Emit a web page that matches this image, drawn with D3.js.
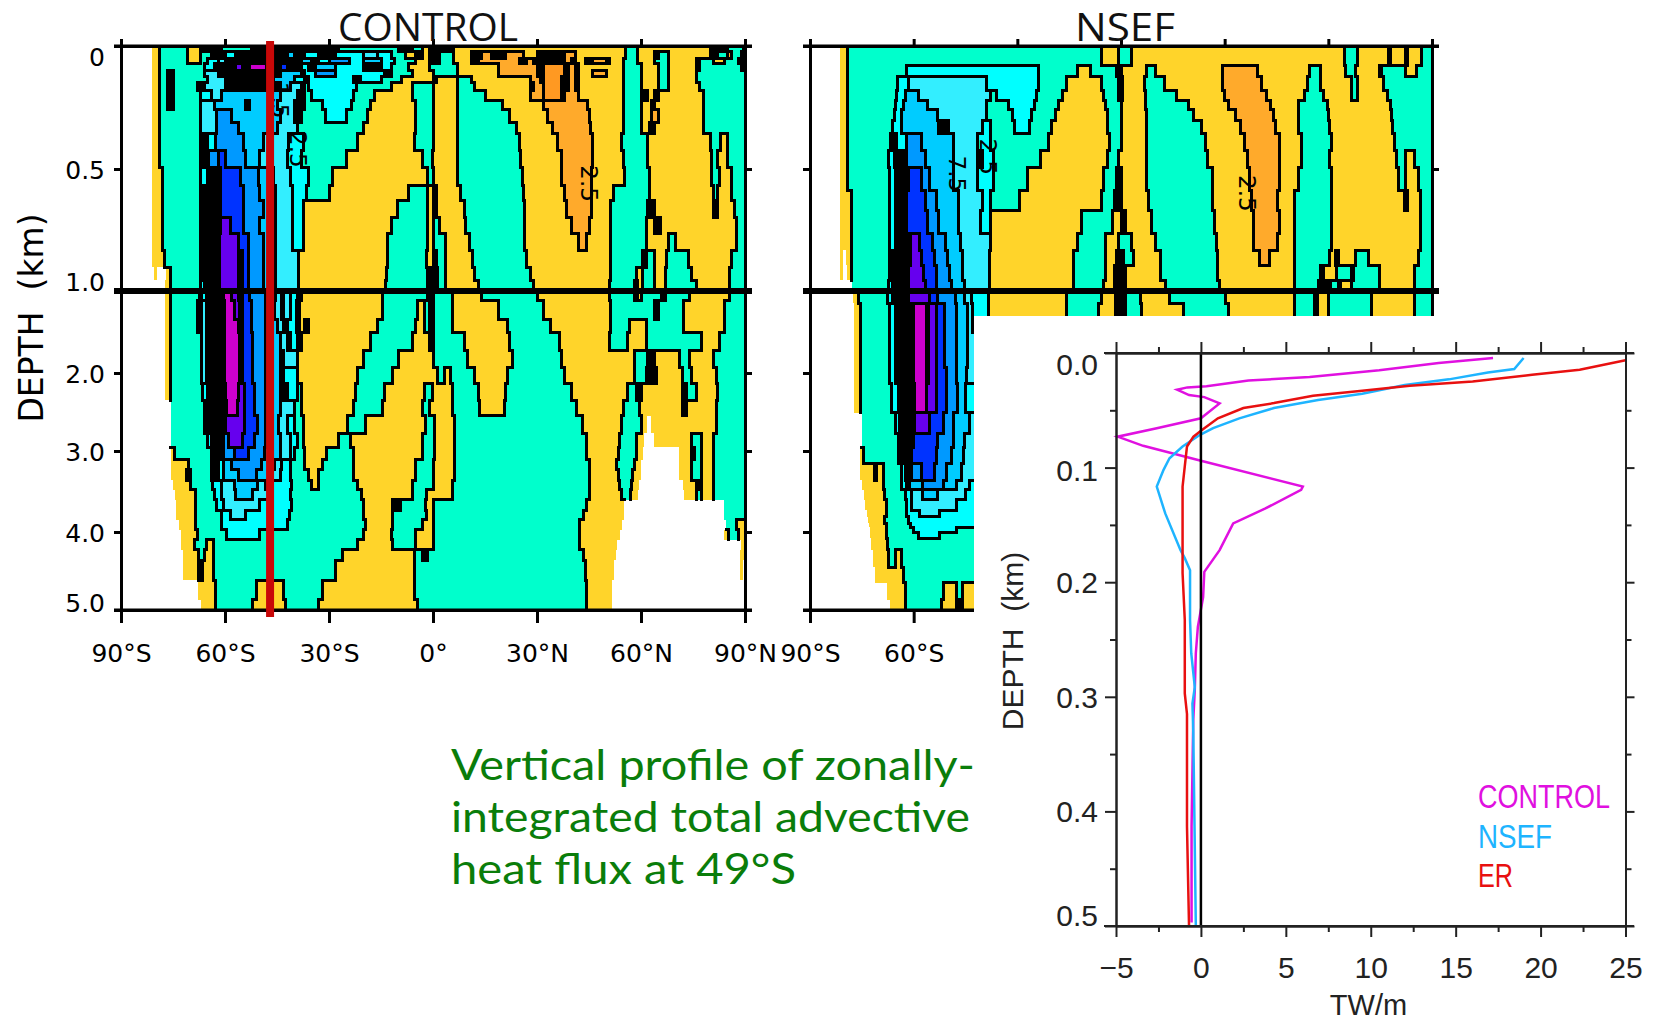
<!DOCTYPE html>
<html>
<head>
<meta charset="utf-8">
<script src="https://cdn.jsdelivr.net/npm/d3@7"></script>
<style>
  html, body { margin: 0; padding: 0; background: #fff; }
  svg { display: block; }
  text { white-space: pre; }
</style>
</head>
<body>
<div id="chart"></div>
<script>
// contour classes, lowest to highest (W is the land, K the packed contour lines)
const W = 0, K = 1, M = 2, V = 3, B = 4, C = 5, D = 6, E = 7, F = 8, G = 9, Y = 10, O = 11, P = 12;
const levelColors = ["#ffffff", "#000000", "#cc00cc", "#6600ee", "#0033ff", "#0099ff", "#00ccff", "#33eeff", "#00ffff", "#00ffcc", "#ffd42a", "#ffaa2b", "#ff9922"];

const latTicks = [-90, -60, -30, 0, 30, 60, 90];
const depthTicks = [0, 0.5, 1, 2, 3, 4, 5];
const depthLabels = ["0", "0.5", "1.0", "2.0", "3.0", "4.0", "5.0"];
const depthPixels = [46, 169, 291, 373, 451, 532, 610];
const depthLabelShift = [10, 0, -10, 0, 0, 0, -8];

// each row: top depth of the row, then start latitude + class pairs
const controlDepths = [0, .024, .049, .073, .098, .122, .147, .18, .22, .26, .31, .355, .425, .494, .567, .629, .698, .763, .833, .902, .955, 1, 1.11, 1.35, 1.51, 1.72, 1.93, 2.13, 2.35, 2.55, 2.77, 2.95, 3.11, 3.23, 3.36, 3.48, 3.6, 3.73, 3.85, 3.97, 4.1, 4.23, 4.36, 4.62, 4.87];
const controlRows = [
  [-81,Y,-79,G,-70.7,Y,-67,K,-61,G,-52.4,K,-27.4,G,-10,K,-6,G,-3,Y,-1,K,6,Y,55.5,G,59,Y,80,K,85,G,89.5,K],
  [-81,Y,-79,G,-70.7,Y,-67,G,-64,K,-60,F,-57,K,-42,D,-40,K,-37,F,-33,K,-28,F,-20,E,-16,F,-12,G,-8,Y,-5,K,-3,Y,-1,K,2,G,6,Y,11,K,14,O,17,K,21,O,26,Y,30,K,38,O,41,Y,55.5,G,59,Y,64,K,65,G,68,Y,80,K,82,G,85,O,86,G,89,K],
  [-81,Y,-79,G,-70.7,Y,-67,G,-65,F,-62,E,-60,K,-38,D,-35,K,-33,F,-30,C,-24,F,-20,D,-15,F,-11,G,-5,Y,-1,K,2,G,6,Y,11,K,13,O,25,K,27,O,29,K,38,O,40,K,41,Y,44,K,46,O,50,K,51,Y,55,G,59,Y,64,G,68,Y,76,K,77,G,81,Y,84,G,88,K],
  [-81,Y,-79,G,-66,F,-63,K,-57,V,-55,K,-53,M,-48,K,-44,B,-42,K,-38,F,-36,K,-34,D,-28,F,-20,K,-15,F,-12,G,-7,Y,-1,G,7,Y,19,O,30,K,31,O,32,P,38,K,39,O,41,K,42,Y,55,G,60,Y,65,G,68,Y,76,K,77,G,89,K],
  [-81,Y,-79,G,-76.5,K,-75,G,-66,E,-62,K,-44,D,-38,K,-37,F,-34,C,-28,F,-14,K,-12,G,-6,Y,0,G,7,Y,19,O,30,K,32,P,38,K,39,O,41,K,42,Y,46,O,50,Y,55,G,60,Y,65,G,68,Y,76,G],
  [-81,Y,-79,G,-76.5,K,-75,G,-65,E,-60,K,-46,D,-40,F,-37,K,-36,F,-23,K,-21,F,-15,G,-9,Y,0,K,1,Y,7,G,11,Y,28,O,31,K,32,P,37,K,39,O,41,K,42,Y,55,G,60,Y,65,G,68,Y,76,G],
  [-81,Y,-79,G,-76.5,K,-75,G,-68,K,-66,E,-60,K,-44,D,-41,E,-38,F,-37,G,-36,F,-22,G,-12,Y,-6,G,0,Y,7,G,12,Y,28,K,29,O,32,P,37,K,39,O,41,K,42,Y,55,G,60,Y,65,G,68,Y,77,G],
  [-81,Y,-79,G,-76.5,K,-75,G,-67,F,-64,E,-61,D,-44,E,-39,K,-37,G,-35,F,-23,G,-17,Y,-6,G,0,Y,7,G,15,Y,28,O,32,P,37,K,38,O,42,Y,55,G,60,Y,61,K,62,Y,64,K,65,Y,78,G],
  [-81,Y,-79,G,-76.5,K,-75,G,-67,E,-63,D,-54,K,-53,D,-45,E,-40,K,-37,G,-32,F,-23.5,G,-18,Y,-5,G,0,Y,7,G,20,Y,32,O,44.5,Y,55,G,60,Y,63,K,64,Y,78,G],
  [-81,Y,-79,G,-67,E,-62.5,C,-58,D,-44,E,-40,K,-38,G,-31,F,-25,G,-19,Y,-5,G,0,Y,7,G,22,Y,33,O,45,Y,55,G,60,Y,63,O,65,Y,78,G],
  [-81,Y,-79,G,-67,E,-62.5,C,-56,D,-45,E,-39,G,-20,Y,-5,G,0,Y,7,G,24,Y,34.5,O,45.5,Y,55,G,60,Y,62.4,K,64,Y,78,G],
  [-81,Y,-79,G,-67,K,-65,F,-62.6,C,-54.7,D,-49,E,-41.8,F,-37.5,G,-21.7,Y,-5.2,G,0,Y,7,G,25,Y,36,O,46,Y,54.5,G,62,Y,80,G,83,Y,85,G],
  [-81,Y,-79,G,-67,K,-64.8,C,-62,B,-60,C,-54,D,-50,E,-42,F,-38,G,-25,Y,-3,G,-0.1,Y,7,G,25.3,Y,37,O,46,Y,55,G,62,Y,80.3,G,82,Y,85,G],
  [-81,Y,-78,G,-67,F,-65,K,-61.2,B,-55.5,C,-50.4,D,-46,E,-41,F,-36,G,-29,Y,-1.6,G,0,Y,7,G,25.7,Y,37.2,O,45.8,Y,55.2,G,62.4,Y,80.3,G,82.5,Y,86,G],
  [-81,Y,-78,G,-67,K,-61.2,B,-54.7,C,-50,D,-45.5,E,-40.4,F,-36.5,G,-30,Y,-7,G,-1.6,Y,0,K,1,Y,8,G,26,Y,38,O,45.8,Y,52,G,62.4,Y,81,G,82,Y,86,G],
  [-81,Y,-78,G,-67,K,-61.2,B,-54.7,C,-49,D,-45.4,E,-40.4,F,-37.5,Y,-10.2,G,-1.6,Y,0,K,1,Y,9.2,G,26.4,Y,38.6,O,45.8,Y,51.3,G,62,K,63,G,64,Y,81,K,82,Y,87,G],
  [-81,Y,-78,G,-67,K,-61.2,V,-58.3,B,-54.7,C,-50,D,-45.4,E,-40.4,F,-37.5,Y,-12,G,-1.6,Y,0,G,2,Y,9.5,G,26.4,Y,40,O,45,Y,51.3,G,61.6,Y,64,K,65.5,Y,87.5,G],
  [-81,Y,-78,G,-67,K,-61.5,V,-56.2,B,-53.3,C,-49,D,-45.4,E,-40.4,F,-37.5,Y,-13,G,-1.6,Y,0,G,3.5,Y,10.5,G,26.5,Y,42,O,44.4,Y,51.3,G,61.6,Y,68,G,70,Y,87.5,G],
  [-81,Y,-77.5,G,-67,K,-61.5,V,-56.2,K,-55,B,-53.3,C,-49,D,-45.4,E,-38.9,Y,-13.2,G,-2,Y,0,K,1,G,3.5,Y,11.5,G,27,Y,51.3,G,60.5,K,61.5,G,64,Y,67.4,G,73.8,Y,86,G],
  [-80.5,Y,-79.5,W,-77,Y,-75.6,G,-67,K,-61.5,V,-56.2,K,-55,B,-53.3,C,-49,D,-45.4,E,-38.9,Y,-13.5,G,-1.6,K,1.3,G,3.5,Y,12,G,28,Y,51.3,G,58.8,Y,60.5,G,64,Y,67,G,74.6,Y,85.5,G],
  [-77.3,Y,-75.6,G,-67,F,-66,K,-61.5,V,-56.2,K,-55,B,-53.3,C,-49,D,-45.4,E,-38.9,Y,-13.8,G,-1.6,K,1.3,G,3.5,Y,13,G,29,Y,51,G,58,K,59,Y,60.5,G,64,Y,67,G,76,Y,85.5,G],
  [-77.3,Y,-75.6,G,-67.5,K,-66.8,F,-65.4,K,-60.5,M,-58,V,-56,K,-55,B,-53,C,-48.2,D,-45.4,E,-43.7,K,-43,E,-41,F,-39,K,-38,Y,-14.5,G,-1.6,K,0,G,5.6,Y,14,G,30,Y,51,G,58,K,59,Y,60,G,66,K,67,G,74,Y,85.5,G],
  [-77.3,Y,-75.6,G,-67.8,K,-66.8,E,-65.4,K,-60.1,M,-57.2,V,-55.8,K,-55,B,-52.4,C,-48.2,D,-45.6,E,-43.7,K,-43,E,-41,F,-39.5,K,-38.4,Y,-14.5,G,-4.5,Y,-2.5,G,-1,K,0,G,5.6,Y,19,G,32,Y,51.3,G,64,K,65,G,72.4,Y,84,G],
  [-77.3,Y,-75.6,G,-67.8,K,-66.8,E,-65.4,K,-60.1,M,-56,K,-55,B,-52.4,C,-48.2,D,-45,E,-43,K,-42,F,-39.5,K,-38.4,Y,-37,K,-36,Y,-16,G,-5,Y,-2.5,G,-1,K,0,G,5.6,Y,21.4,G,34,Y,51.3,G,56.6,Y,61.6,G,72.4,Y,84,G],
  [-77.3,Y,-75.6,G,-66.8,E,-65.4,K,-60.1,M,-55.8,K,-55,B,-52,C,-48.2,D,-44,E,-42,K,-41,F,-39,K,-38,Y,-18,G,-6,Y,-1,K,0,G,9,Y,22,G,36.5,Y,51,G,56,Y,61.6,G,77.4,Y,82.5,G],
  [-77.3,Y,-75.6,G,-66.8,E,-65.4,K,-60.1,M,-55.8,K,-55,B,-52,C,-48.2,D,-44,K,-43,E,-39,Y,-20,G,-10,Y,0,G,10,Y,22.8,G,37,Y,58,G,62,K,64,Y,71,G,74,Y,81,G],
  [-77.3,Y,-75.6,G,-66.8,E,-65.4,K,-60.1,M,-55.8,K,-55,B,-52,C,-48.2,D,-44,K,-43,F,-39,Y,-21.7,G,-11.6,Y,1.3,G,3.4,Y,5,G,12.1,Y,21.4,G,38,Y,58,G,61.6,K,64.5,Y,72,G,74.6,Y,81.8,G],
  [-77.3,Y,-75.6,G,-66.5,F,-65,K,-60,M,-56,V,-54.5,B,-51.4,C,-48.2,D,-44,K,-42,F,-39,G,-38,Y,-22.5,G,-14,Y,-2.5,G,-0.1,Y,5.6,G,13,Y,21,G,40,Y,56,G,58.8,K,60,Y,72,K,73,G,76,Y,82,G],
  [-75.6,G,-66,K,-59.5,M,-56.5,V,-54.5,B,-51.4,C,-48.2,D,-44,E,-40,G,-38,Y,-23,G,-14.5,Y,-3,G,-1,Y,5.6,G,13.5,Y,20.7,G,41.5,Y,55,G,59.5,Y,72,K,73,Y,81.7,G],
  [-75.6,G,-66,K,-60,V,-54.5,B,-50.5,C,-48.2,D,-44.5,E,-42,F,-40,G,-37.5,Y,-24.6,G,-19.5,Y,-2.3,G,0.5,Y,6.3,G,43,Y,54.5,G,60,Y,61.6,W,63,Y,81.7,G],
  [-75.6,G,-65,F,-64,K,-60.5,C,-59,V,-55,B,-51.4,C,-48.2,D,-44,E,-41,F,-39,G,-37.5,Y,-27.4,G,-23.9,Y,-3,G,0.5,Y,6.3,G,44.4,Y,53.7,G,58.8,Y,61,W,63.8,Y,74.6,G,77.4,Y,81,G],
  [-75.6,Y,-74.5,G,-64,K,-60.5,C,-57.2,B,-53.3,C,-48.5,D,-44,E,-41,F,-40,G,-37,Y,-30.7,G,-23,Y,-3,G,0.5,Y,6.3,G,44.4,Y,53.5,G,58.8,Y,60.5,W,71,Y,74.6,K,75.5,G,77.4,Y,81,G],
  [-75.6,Y,-70.5,G,-64,K,-62,F,-60.5,D,-58.2,C,-49.5,D,-45.6,E,-43.7,F,-41,G,-37,Y,-32,G,-23,Y,-5,G,0,Y,6.3,G,45,Y,53,G,58,Y,60,W,71,Y,74.6,G,77.4,Y,81,G],
  [-75.6,Y,-71,K,-70,G,-64,K,-62,F,-60.5,D,-56,C,-51,D,-47,E,-44,F,-41,G,-36,Y,-33,G,-23,Y,-5,G,0,Y,6.3,G,45,Y,53.5,G,57.5,Y,60,W,71,Y,74.6,G,77.4,Y,81,G],
  [-75,Y,-70,G,-63.5,F,-61,E,-57.2,D,-50.5,E,-48.2,F,-40.8,G,-35,Y,-33,G,-21.7,Y,-6,G,0,Y,5.6,G,45,Y,53.7,G,57.3,Y,59.5,W,72,Y,76,K,76.5,G,77.4,Y,81,G],
  [-74.5,Y,-68.4,G,-63,F,-61,E,-57,D,-52,E,-47.5,F,-41,G,-20.5,Y,-6,G,-2,Y,5.6,G,45,Y,54.5,G,57,Y,59,W,72.4,Y,76,G,77.4,Y,81,G],
  [-74.1,Y,-68.4,G,-62.5,F,-60.5,E,-50,F,-40.8,G,-20,Y,-11.6,K,-9.5,G,-2.3,Y,0,G,44.4,Y,55.2,W,84,G],
  [-74,Y,-68.4,G,-61,F,-58.5,E,-54,F,-41.5,G,-20,Y,-11.6,G,-2,Y,0,G,43.5,Y,55.2,W,84,G],
  [-73.4,Y,-68.4,G,-61,F,-42,G,-19.5,Y,-11.6,G,-3,Y,0,G,42.2,Y,54.5,W,84.6,G,87.5,Y],
  [-72.7,Y,-68,G,-59.6,F,-50,G,-20,Y,-12,G,-5,Y,0,G,42.2,Y,54,W,83.9,Y,85.3,G,88,Y],
  [-72.7,Y,-68.8,G,-65.4,Y,-63.4,G,-21.7,Y,-11.6,G,-5,Y,0,G,42.2,Y,53,W,88.9,Y],
  [-72,Y,-67.7,G,-66,Y,-63.4,G,-26,Y,-5.2,G,-3,K,-1.5,G,43.5,Y,52.8,W,88.7,Y],
  [-72,Y,-67.7,K,-66.5,Y,-63.4,G,-28,Y,-5.2,G,44,Y,52.3,W,88.5,Y,89.5,W],
  [-67.7,Y,-62.6,G,-51,Y,-43,G,-31.8,Y,-5.2,G,44.4,Y,51.6,W],
  [-67,Y,-62.6,G,-52,Y,-42.5,G,-33,Y,-4.5,G,44.4,Y,51.6,W]
];

const nsefDepths = [0, .078, .122, .18, .22, .26, .302, .355, .425, .494, .588, .669, .763, .833, .894, .955, 1, 1.15, 1.51, 1.93, 2.13, 2.51, 2.77, 2.96, 3.15, 3.36, 3.48, 3.6, 3.73, 3.81, 3.89, 3.94, 4.0, 4.08, 4.23, 4.45, 4.65, 4.87];
const nsefRows = [
  [-81.3,Y,-79.1,G,-5.7,Y,-0.6,G,3.1,Y,64.7,G,68.5,Y,77.3,K,78,Y,82.3,K,83,Y,87,G],
  [-81.3,Y,-79.1,G,-62.2,F,-23.9,G,-12.6,Y,-8.8,G,-1.3,K,0,Y,7.5,G,10,Y,29.5,O,39.6,Y,54.6,G,57.8,Y,65,G,68,Y,74.7,K,75.5,G,82.3,Y,85.5,G],
  [-81.3,Y,-79.1,G,-64.7,F,-61.6,E,-38.9,F,-23.9,G,-15.7,Y,-5.7,G,-0.6,K,0.5,Y,6.9,G,12.6,Y,29.5,O,40.8,Y,54,G,57.8,Y,66.6,G,68.5,Y,76,G],
  [-81.3,Y,-79.1,G,-65,F,-62.5,D,-58.5,E,-37.7,G,-36,F,-24.5,G,-17,Y,-5,G,-0.6,K,0.5,Y,7,G,16,Y,30,O,42,Y,53,G,58.5,Y,66.6,G,68.5,Y,77,G],
  [-81.3,Y,-79.1,G,-65.3,F,-63,D,-56,E,-38.9,G,-32.7,F,-25,G,-18.2,Y,-4.4,G,0,Y,7,G,19.5,Y,31,O,43.3,Y,51.5,G,59.7,Y,78,G],
  [-81.3,Y,-79.1,G,-65.6,F,-63.5,D,-53,E,-39,G,-31.4,F,-25.8,G,-19,Y,-4,G,0,Y,7.5,G,21,Y,33,O,44,Y,51.5,G,60,Y,78.2,G],
  [-81.3,Y,-79.1,G,-66,F,-63.5,D,-52.8,K,-50,E,-40,F,-37.7,G,-30.8,F,-26.4,G,-20,Y,-3.8,G,0,Y,7.5,G,23.2,Y,34.5,O,44.6,Y,51.5,G,60.3,Y,78.5,G],
  [-81.3,Y,-79.1,G,-66.8,K,-65,F,-62,C,-57.8,D,-48.4,E,-41.5,F,-37.7,G,-21,Y,-3.2,G,0,Y,7.5,G,24.5,Y,35.8,O,45.9,Y,52.1,G,60.9,Y,79.2,G],
  [-81.3,Y,-79.1,G,-67.2,F,-65.5,K,-62,C,-56.5,D,-48.4,E,-41.5,K,-40,F,-37,G,-23.2,Y,-3.8,G,-0.6,Y,7.5,G,25.1,Y,36.5,O,45.9,Y,52.1,G,60.3,Y,79.8,G,82.3,Y,85,G],
  [-81.3,Y,-79.1,G,-67,F,-65.3,K,-61.6,B,-57.8,C,-55.3,D,-48.4,E,-41.5,F,-37,G,-27,Y,-5,G,-1.3,K,0,Y,7.5,G,26.4,Y,37.1,O,45.9,Y,51.5,G,60.9,Y,80.4,G,82.3,Y,86,G],
  [-81.3,Y,-78,G,-67,F,-65.3,K,-62,B,-56.5,C,-53.4,D,-47.1,E,-40.2,F,-37.7,G,-29.5,Y,-5.7,G,-1.9,K,0,Y,8,G,26.4,Y,37.7,O,45.2,Y,50.3,G,61,Y,82,G,83,Y,86.7,G],
  [-81.3,Y,-78,G,-67,F,-65.3,K,-62,B,-55.9,C,-52.8,D,-47.1,E,-40.8,F,-37.7,Y,-11.3,G,-2.5,Y,0,K,1.3,Y,8.8,G,27,Y,38.3,O,45.9,Y,50.3,G,60.9,Y,86.7,G],
  [-81.3,Y,-78,G,-67,F,-65.3,K,-60.9,V,-58.4,B,-54.6,C,-50.9,D,-46.5,E,-37.7,Y,-12.6,G,-4.4,Y,-0.6,G,3.1,Y,10,G,27.6,Y,38.3,O,45.2,Y,50.3,G,60.9,Y,86.7,G],
  [-81.3,Y,-80.5,W,-79.5,Y,-78,G,-67,F,-66,K,-60.9,V,-57.8,B,-54,C,-50.3,D,-45.9,E,-38,Y,-13.8,G,-4.4,Y,-1.3,K,0.6,G,3.7,Y,11.3,G,28,Y,40,O,43,Y,50.3,G,60.3,Y,62.2,K,63,Y,68,G,71.6,Y,86,G],
  [-81.3,Y,-80.5,W,-79.4,Y,-77.9,G,-67,F,-66,K,-61.6,V,-57.2,B,-53.4,C,-49.6,D,-46,E,-38,Y,-13.8,G,-4.4,Y,-2,K,1.3,Y,11.3,G,28,Y,50.3,G,57.8,K,58.5,Y,62.5,G,66.6,K,67.4,G,74.7,Y,84.8,G],
  [-77.9,G,-67.2,F,-66,K,-61.6,V,-56.5,B,-53.4,C,-49,D,-45.2,E,-38,Y,-13.8,G,-5,Y,-2,K,1.3,Y,13,G,28.5,Y,50.3,G,57.2,K,60.5,G,62.8,K,63.5,Y,66.6,G,74.7,Y,84.8,G],
  [-77.6,Y,-76,G,-67.5,F,-66,K,-61.6,V,-55.5,B,-53,C,-48,D,-45.2,E,-43.3,F,-38.3,Y,-15.7,G,-5.7,Y,-1.5,K,1.3,G,5.6,Y,14,G,30.2,Y,50.3,G,56,K,57,Y,60,G,72.5,Y,84.8,G],
  [-77.2,Y,-75.5,G,-66.9,F,-65.4,K,-60.1,M,-56.3,K,-55.8,V,-53.4,B,-51,C,-47.6,D,-44.3,E,-43,F,-38.3,Y,-15.7,G,-6.5,Y,-1.5,K,1.3,G,6,Y,18,G,31,Y,50.3,G,56,K,57,Y,60,G,72.5,Y,84.8,G],
  [-77.2,Y,-75.5,G,-66.9,F,-65.4,K,-60.1,M,-56.3,K,-55.8,V,-53.4,B,-51,C,-47.6,D,-44.3,E],
  [-77.2,Y,-75.5,G,-66.9,F,-65.4,K,-60.1,M,-56.3,K,-55.8,V,-53.4,B,-50.5,C,-47.6,D,-44.8,E],
  [-77.2,Y,-75.5,G,-66.4,F,-64.5,K,-59.7,M,-56.3,V,-53.4,B,-50.5,C,-47.2,D,-45,F],
  [-75,G,-65.4,F,-64,K,-59.7,V,-55.3,B,-51.5,C,-48.4,D,-43.8,E],
  [-75,G,-64.5,F,-63.5,K,-60.1,B,-53,C,-48.6,D,-45.3,E],
  [-75.5,Y,-74.5,G,-64.5,F,-63.5,K,-60.6,B,-53.4,C,-49.1,D,-45.7,E],
  [-75.5,Y,-71.2,K,-70.7,Y,-68.8,G,-63.5,F,-62.5,K,-60.6,C,-57.7,B,-53.9,C,-50.5,D,-46.2,E],
  [-75,Y,-68.8,G,-63.5,F,-62,K,-61.1,D,-57.3,C,-51.5,D,-47.6,E,-43.8,F],
  [-74.5,Y,-68.4,G,-62.5,F,-60.6,E,-57.5,D,-53,E,-45,F],
  [-74,Y,-67.8,G,-62,F,-60.6,E,-47.6,F],
  [-73.5,Y,-68,G,-62,F,-58.2,E,-52.4,F],
  [-73.1,Y,-68.3,G,-61.6,F],
  [-72.9,Y,-68,G,-60.8,F],
  [-72.7,Y,-67.8,G,-60.1,F,-47.6,G],
  [-72.6,Y,-67.8,G,-58.5,F,-52.5,G],
  [-72.3,Y,-67.6,G],
  [-71.9,Y,-67.3,G,-65.4,Y,-63.5,G],
  [-71.2,Y,-63,G],
  [-67.8,Y,-62.5,G,-51.5,Y,-47.6,G,-46,Y],
  [-66.9,Y,-62.5,G,-52,Y,-47.6,K,-46,Y]
];

// contour labels: latitude, depth, text
const controlLabels = [[45, 0.56, "2.5"], [-39, 0.42, "2.5"], [-44, 0.22, "1.5"]];
const nsefLabels = [[36.5, 0.60, "2.5"], [-47.5, 0.52, "7.5"], [-38.5, 0.45, "2.5"]];

const sectionLat = -47;

// flux profiles at 49S, TW/m against depth in km
const controlFlux = [17.2, 14, 10.5, 6.4, 2.8, .33, -.8, -1.4, -.7, .2, 1.1, 0, -2.6, -4.9, -3.4, 0, 6, 5.9, 3.8, 1.9, 1.1, .2, .13, -.18, -.3, -.36, -.45, -.55, -.55];
const controlFluxDepth = [.0044, .0087, .015, .021, .024, .029, .03, .032, .0367, .0385, .044, .057, .0656, .073, .081, .094, .1166, .1195, .1356, .1487, .172, .191, .213, .239, .262, .294, .32, .413, .497];
const nsefFlux = [19, 18.45, 16.9, 14.6, 12, 9.5, 6.9, 4.3, 2.26, .72, -.05, -1.08, -1.85, -2.2, -2.6, -2.1, -1.2, -.95, -.64, -.64, -.57, -.36, -.5, -.45, -.3];
const nsefFluxDepth = [.0044, .014, .017, .023, .028, .0356, .041, .048, .057, .0656, .0714, .0816, .0918, .102, .1166, .14, .172, .179, .1895, .233, .262, .2915, .306, .33, .5];
const erFlux = [25, 22.3, 19.5, 16, 12.3, 9.5, 6.6, 4.3, 2.5, 1, .08, -.44, -.82, -.95, -1.08, -1.08, -.95, -.95, -.82, -.82, -.7];
const erFluxDepth = [.0064, .0146, .019, .0248, .0286, .033, .0373, .0437, .048, .057, .067, .073, .0816, .099, .1166, .192, .233, .297, .315, .413, .5];
const fluxTicks = [-5, 0, 5, 10, 15, 20, 25];
const fluxMinorTicks = [-2.5, 2.5, 7.5, 12.5, 17.5, 22.5];
const profileDepthTicks = [0, .1, .2, .3, .4, .5];
const profileDepthMinor = [.05, .15, .25, .35, .45];
const profileLabelShift = [11, 3, 0, 1, 0, -11];
const legendNames = ["CONTROL", "NSEF", "ER"];
const legendColors = ["#e010e0", "#1eb4ff", "#e81010"];
const legendWidths = [132, 74, 35];

const captionLines = ["Vertical profile of zonally-", "integrated total advective", "heat flux at 49\u00b0S"];
const captionWidths = [524, 519, 345];

const svg = d3.select("#chart").append("svg")
  .attr("width", 1653)
  .attr("height", 1022);

const yScale = d3.scaleLinear().domain(depthTicks).range(depthPixels);

function latLabel(d) {
  if (d === 0) return "0\u00b0";
  return Math.abs(d) + "\u00b0" + (d < 0 ? "S" : "N");
}

function panel(left, right, title, titleX, titleWidth, depths, rows, labels, firstPanel) {
  let xScale = d3.scaleLinear().domain([-90, 90]).range([left, right]);
  let g = svg.append("g");

  // unpack the rows into runs
  let allRuns = rows.map((row, r) => {
    let runs = [];
    for (let i = 0; i < row.length; i += 2) {
      runs.push({
        lat0: row[i],
        lat1: i + 2 < row.length ? row[i + 2] : 90,
        level: row[i + 1],
        depth0: depths[r],
        depth1: r + 1 < depths.length ? depths[r + 1] : 5
      });
    }
    return runs;
  });

  g.append("g")
    .attr("shape-rendering", "crispEdges")
    .selectAll("rect")
    .data(allRuns.flat())
    .enter().append("rect")
    .attr("x", d => xScale(d.lat0))
    .attr("y", d => yScale(d.depth0))
    .attr("width", d => xScale(d.lat1) - xScale(d.lat0))
    .attr("height", d => yScale(d.depth1) - yScale(d.depth0))
    .attr("fill", d => levelColors[d.level]);

  // contour lines wherever two neighbouring runs differ
  let path = d3.path();
  allRuns.forEach((runs, r) => {
    runs.forEach((run, i) => {
      let next = runs[i + 1];
      if (next && run.level !== W && next.level !== W) {
        path.moveTo(xScale(next.lat0), yScale(run.depth0));
        path.lineTo(xScale(next.lat0), yScale(run.depth1));
      }
    });
    if (r + 1 < allRuns.length) {
      runs.forEach(run => {
        allRuns[r + 1].forEach(below => {
          let a = Math.max(run.lat0, below.lat0), b = Math.min(run.lat1, below.lat1);
          if (b > a && run.level !== below.level && run.level !== W && below.level !== W) {
            path.moveTo(xScale(a), yScale(run.depth1));
            path.lineTo(xScale(b), yScale(run.depth1));
          }
        });
      });
    }
  });
  g.append("path")
    .attr("d", path.toString())
    .attr("fill", "none")
    .attr("stroke", "#000")
    .attr("stroke-width", 3)
    .attr("stroke-linecap", "square")
    .attr("shape-rendering", "crispEdges");

  g.selectAll(".contourLabel")
    .data(labels)
    .enter().append("text")
    .attr("class", "contourLabel")
    .attr("transform", d => "translate(" + xScale(d[0]) + "," + yScale(d[1]) + ") rotate(90)")
    .attr("text-anchor", "middle")
    .attr("dy", "0.35em")
    .style("font-family", "'DejaVu Sans'")
    .style("font-size", "23px")
    .text(d => d[2]);

  // axes
  let bottomAxis = d3.axisBottom(xScale).tickValues(latTicks).tickFormat(latLabel).tickSizeInner(13).tickSizeOuter(0).tickPadding(21);
  let topAxis = d3.axisTop(xScale).tickValues(latTicks).tickFormat("").tickSizeInner(7).tickSizeOuter(0);
  let leftAxis = d3.axisLeft(yScale).tickValues(depthTicks).tickSizeInner(7).tickSizeOuter(0).tickPadding(9)
    .tickFormat((d, i) => firstPanel ? depthLabels[i] : "");
  let rightAxis = d3.axisRight(yScale).tickValues(depthTicks).tickFormat("").tickSizeInner(7).tickSizeOuter(0);

  let axes = g.append("g");
  axes.append("g").attr("transform", "translate(0,610)").call(bottomAxis);
  axes.append("g").attr("transform", "translate(0,46)").call(topAxis);
  let leftG = axes.append("g").attr("transform", "translate(" + left + ",0)").call(leftAxis);
  axes.append("g").attr("transform", "translate(" + right + ",0)").call(rightAxis);
  leftG.selectAll(".tick text").attr("dy", (d, i) => depthLabelShift[i] + 9);

  axes.selectAll(".domain, .tick line").attr("stroke", "#000").attr("stroke-width", 3);
  axes.selectAll("text")
    .attr("fill", "#000")
    .style("font-family", "'DejaVu Sans'")
    .style("font-size", "25px");

  // top and bottom frame run a little past the corners, plus the 1 km divider
  [[0, 3], [5, 3], [1, 6]].forEach(d => {
    g.append("line")
      .attr("x1", left - 7).attr("x2", right + 7)
      .attr("y1", yScale(d[0])).attr("y2", yScale(d[0]))
      .attr("stroke", "#000")
      .attr("stroke-width", d[1]);
  });

  svg.append("text")
    .attr("x", titleX)
    .attr("y", 41)
    .attr("text-anchor", "middle")
    .attr("textLength", titleWidth)
    .attr("lengthAdjust", "spacingAndGlyphs")
    .style("font-family", "'Open Sans'")
    .style("font-size", "38px")
    .attr("fill", "#111")
    .text(title);

  return xScale;
}

let controlX = panel(121, 745, "CONTROL", 428, 180, controlDepths, controlRows, controlLabels, true);
panel(810, 1432, "NSEF", 1125, 100, nsefDepths, nsefRows, nsefLabels, false);

// section marker on the CONTROL panel
svg.append("line")
  .attr("x1", controlX(sectionLat)).attr("x2", controlX(sectionLat))
  .attr("y1", 41).attr("y2", 617)
  .attr("stroke", "#c80808")
  .attr("stroke-width", 8);

svg.append("text")
  .attr("transform", "translate(43,318) rotate(-90)")
  .attr("text-anchor", "middle")
  .style("font-family", "'DejaVu Sans'")
  .style("font-size", "33px")
  .text("DEPTH  (km)");

// caption, partly hidden by the inset as in the slide
svg.selectAll(".caption")
  .data(captionLines)
  .enter().append("text")
  .attr("class", "caption")
  .attr("x", 451)
  .attr("y", (d, i) => 780 + i * 52)
  .attr("textLength", (d, i) => captionWidths[i])
  .attr("lengthAdjust", "spacingAndGlyphs")
  .attr("fill", "#0a7d0a")
  .style("font-family", "Lato")
  .style("font-size", "42px")
  .text(d => d);

// inset sheet
svg.append("rect")
  .attr("x", 974).attr("y", 316)
  .attr("width", 679).attr("height", 706)
  .attr("fill", "#fff");

let profX = d3.scaleLinear().domain([-5, 25]).range([1116, 1625.5]);
let profY = d3.scaleLinear().domain([0, 0.5]).range([353, 926]);
let inset = svg.append("g");

let profileLine = d3.line().x(d => profX(d[0])).y(d => profY(d[1]));
[[controlFlux, controlFluxDepth, 0, 2.5], [nsefFlux, nsefFluxDepth, 1, 2.5], [erFlux, erFluxDepth, 2, 2.5]].forEach(s => {
  inset.append("path")
    .attr("d", profileLine(d3.zip(s[0], s[1])))
    .attr("fill", "none")
    .attr("stroke", legendColors[s[2]])
    .attr("stroke-width", s[3]);
});

inset.append("line")
  .attr("x1", profX(0)).attr("x2", profX(0))
  .attr("y1", profY(0)).attr("y2", profY(0.5))
  .attr("stroke", "#000")
  .attr("stroke-width", 2.5);

let axesInset = inset.append("g");
function fluxAxis(maker, y, ticks, size, labels) {
  let a = maker(profX).tickValues(ticks).tickSizeInner(size).tickSizeOuter(0).tickPadding(20)
    .tickFormat(labels ? (d => d < 0 ? "\u2212" + Math.abs(d) : d) : "");
  axesInset.append("g").attr("transform", "translate(0," + y + ")").call(a);
}
function depthAxis(maker, x, ticks, size, labels) {
  let a = maker(profY).tickValues(ticks).tickSizeInner(size).tickSizeOuter(0).tickPadding(7)
    .tickFormat(labels ? d3.format(".1f") : "");
  let n = axesInset.append("g").attr("transform", "translate(" + x + ",0)").call(a);
  if (labels) n.selectAll(".tick text").attr("dy", (d, i) => profileLabelShift[i] + 10);
}
fluxAxis(d3.axisBottom, 926, fluxTicks, 11, true);
fluxAxis(d3.axisBottom, 926, fluxMinorTicks, 6, false);
fluxAxis(d3.axisTop, 353, fluxTicks, 11, false);
fluxAxis(d3.axisTop, 353, fluxMinorTicks, 6, false);
depthAxis(d3.axisLeft, 1116, profileDepthTicks, 11, true);
depthAxis(d3.axisLeft, 1116, profileDepthMinor, 6, false);
depthAxis(d3.axisRight, 1625.5, profileDepthTicks, 9, false);
depthAxis(d3.axisRight, 1625.5, profileDepthMinor, 6, false);
axesInset.selectAll(".domain, .tick line").attr("stroke", "#222").attr("stroke-width", 2);
axesInset.selectAll("text")
  .attr("fill", "#222")
  .style("font-family", "'Liberation Sans'")
  .style("font-size", "30px");

[353, 926].forEach(y => {
  axesInset.append("line")
    .attr("x1", 1104).attr("x2", 1634)
    .attr("y1", y).attr("y2", y)
    .attr("stroke", "#222")
    .attr("stroke-width", 2);
});

inset.append("text")
  .attr("x", 1368.5).attr("y", 1015)
  .attr("text-anchor", "middle")
  .attr("fill", "#222")
  .style("font-family", "'Liberation Sans'")
  .style("font-size", "29px")
  .text("TW/m");

inset.append("text")
  .attr("transform", "translate(1023,641) rotate(-90)")
  .attr("text-anchor", "middle")
  .attr("fill", "#222")
  .style("font-family", "'Liberation Sans'")
  .style("font-size", "30px")
  .text("DEPTH  (km)");

inset.selectAll(".legendItem")
  .data(legendNames)
  .enter().append("text")
  .attr("class", "legendItem")
  .attr("x", 1478)
  .attr("y", (d, i) => 808 + i * 39.5)
  .attr("textLength", (d, i) => legendWidths[i])
  .attr("lengthAdjust", "spacingAndGlyphs")
  .attr("fill", (d, i) => legendColors[i])
  .style("font-family", "'Liberation Sans'")
  .style("font-size", "33px")
  .text(d => d);
</script>
</body>
</html>
